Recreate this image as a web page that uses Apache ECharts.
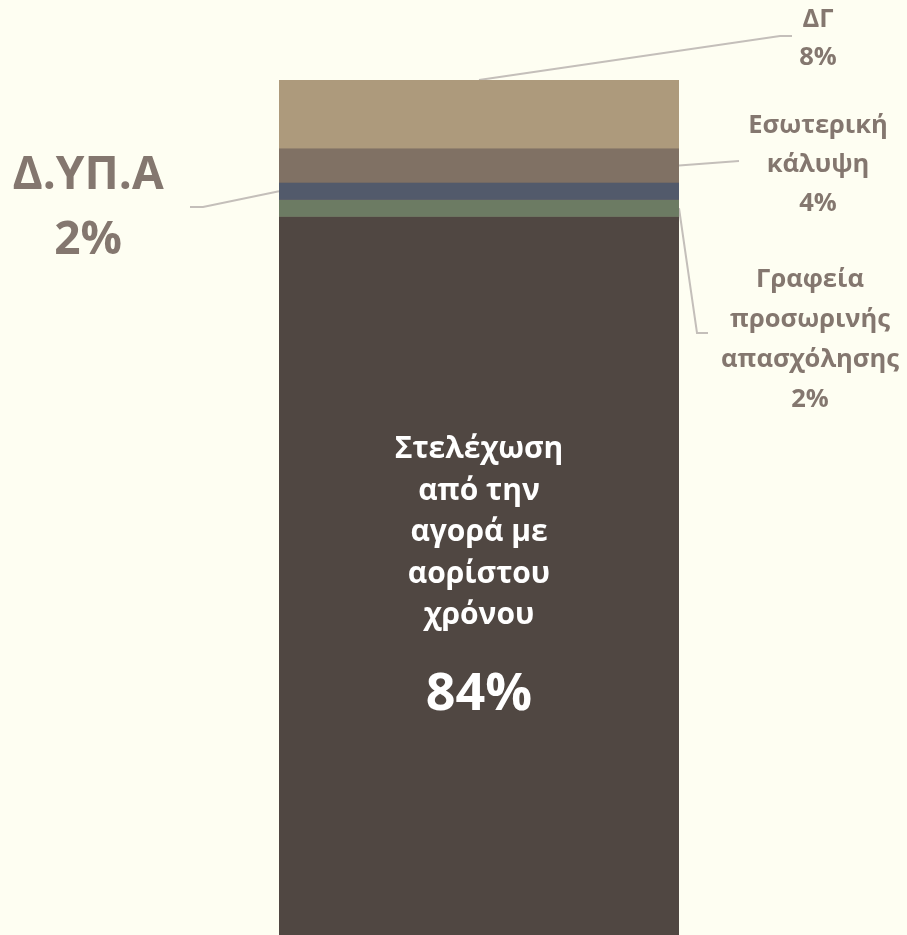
<!DOCTYPE html>
<html><head><meta charset="utf-8">
<script src="https://cdn.jsdelivr.net/npm/echarts@6/dist/echarts.min.js"></script>
<style>html,body{margin:0;padding:0;background:#FEFEF2}#c{width:907px;height:935px}</style>
</head><body><div id="c"></div>
<script>
// ---- data ----
const categories = ['Στελέχωση'];
const seriesNames = ['Στελέχωση από την αγορά με αορίστου χρόνου', 'Γραφεία προσωρινής απασχόλησης', 'Δ.ΥΠ.Α', 'Εσωτερική κάλυψη', 'ΔΓ'];
const seriesLabelLines = [
  ['Στελέχωση', 'από την', 'αγορά με', 'αορίστου', 'χρόνου'],
  ['Γραφεία', 'προσωρινής', 'απασχόλησης'],
  ['Δ.ΥΠ.Α'],
  ['Εσωτερική', 'κάλυψη'],
  ['ΔΓ']
];
const seriesValues = [84, 2, 2, 4, 8];

// ---- styles / layout ----
const colors = ['#504742', '#6C7B63', '#525A6B', '#807164', '#AD9A7C'];
const textColor = '#84776F';
const leaderColor = '#C4BFBA';
const FONT = '"Open Sans", "Noto Sans", sans-serif';
// label placement (pixels): text block top-centre, attachment side on bar, leader elbow points
const labelPlacement = [
  { x: 479, y: 429, side: 'none' },
  { x: 810, y: 260, side: 'right', elbow: [[697, 333], [708, 333]] },
  { x: 88, y: 143, side: 'left', elbow: [[203, 207], [190, 207]] },
  { x: 818, y: 106, side: 'right', elbow: [[739, 161]] },
  { x: 818, y: 1, side: 'top', elbow: [[780, 36], [792, 36]] }
];
const labelStyles = [
  { fontSize: 30, lineHeight: 41.5, color: '#FFFFFF' },
  { fontSize: 25.5, lineHeight: 40, color: textColor },
  { fontSize: 46, lineHeight: 65, color: textColor },
  { fontSize: 25.5, lineHeight: 39, color: textColor },
  { fontSize: 25.5, lineHeight: 38, color: textColor }
];

const chart = echarts.init(document.getElementById('c'), null, { renderer: 'canvas' });

const series = seriesValues.map((v, i) => {
  const st = labelStyles[i];
  const pl = labelPlacement[i];
  const label = {
    show: true,
    fontFamily: FONT,
    fontWeight: 'bold',
    fontSize: st.fontSize,
    lineHeight: st.lineHeight,
    color: st.color,
    align: 'center'
  };
  if (i === 0) {
    label.formatter = () => seriesLabelLines[i].map(t => '{a|' + t + '}').join('\n') + '\n{b|' + v + '%}';
    label.rich = {
      a: { fontFamily: FONT, fontWeight: 'bold', fontSize: st.fontSize, lineHeight: st.lineHeight, color: '#FFFFFF', align: 'center' },
      b: { fontFamily: FONT, fontWeight: 'bold', fontSize: 52, lineHeight: 117, color: '#FFFFFF', align: 'center' }
    };
  } else {
    label.formatter = () => seriesLabelLines[i].join('\n') + '\n' + v + '%';
  }
  return {
    name: seriesNames[i],
    type: 'bar',
    stack: 'total',
    barWidth: '100%',
    data: [v],
    itemStyle: { color: colors[i], borderWidth: 0 },
    label: label,
    labelLayout: () => ({ x: pl.x, y: pl.y, align: 'center', verticalAlign: 'top' }),
    emphasis: { disabled: true },
    silent: true,
    animation: false
  };
});

chart.setOption({
  backgroundColor: '#FEFEF2',
  animation: false,
  grid: { left: 279, width: 400, top: 80, bottom: 0, show: true, borderWidth: 0, backgroundColor: '#766A60' },
  xAxis: { type: 'category', data: categories, show: false },
  yAxis: { type: 'value', min: 0, max: 100, show: false },
  series: series
});

// leader lines: bar attachment point computed through the chart's scales
function buildLeaders() {
  const graphics = [];
  const bandHalf = chart.getModel().getComponent('xAxis', 0).axis.getBandWidth() / 2;
  let cum = 0;
  seriesValues.forEach((v, i) => {
    const pl = labelPlacement[i];
    const lo = cum, hi = cum + v;
    cum = hi;
    if (pl.side === 'none') return;
    const centre = chart.convertToPixel({ gridIndex: 0 }, [0, (lo + hi) / 2]);
    const top = chart.convertToPixel({ gridIndex: 0 }, [0, hi]);
    let p0;
    if (pl.side === 'top') p0 = [top[0], top[1]];
    else if (pl.side === 'right') p0 = [centre[0] + bandHalf, centre[1]];
    else p0 = [centre[0] - bandHalf, centre[1]];
    graphics.push({
      type: 'polyline',
      silent: true,
      shape: { points: [p0].concat(pl.elbow) },
      style: { stroke: leaderColor, lineWidth: 2, fill: null }
    });
  });
  chart.setOption({ graphic: graphics });
}
buildLeaders();
</script>
</body></html>
